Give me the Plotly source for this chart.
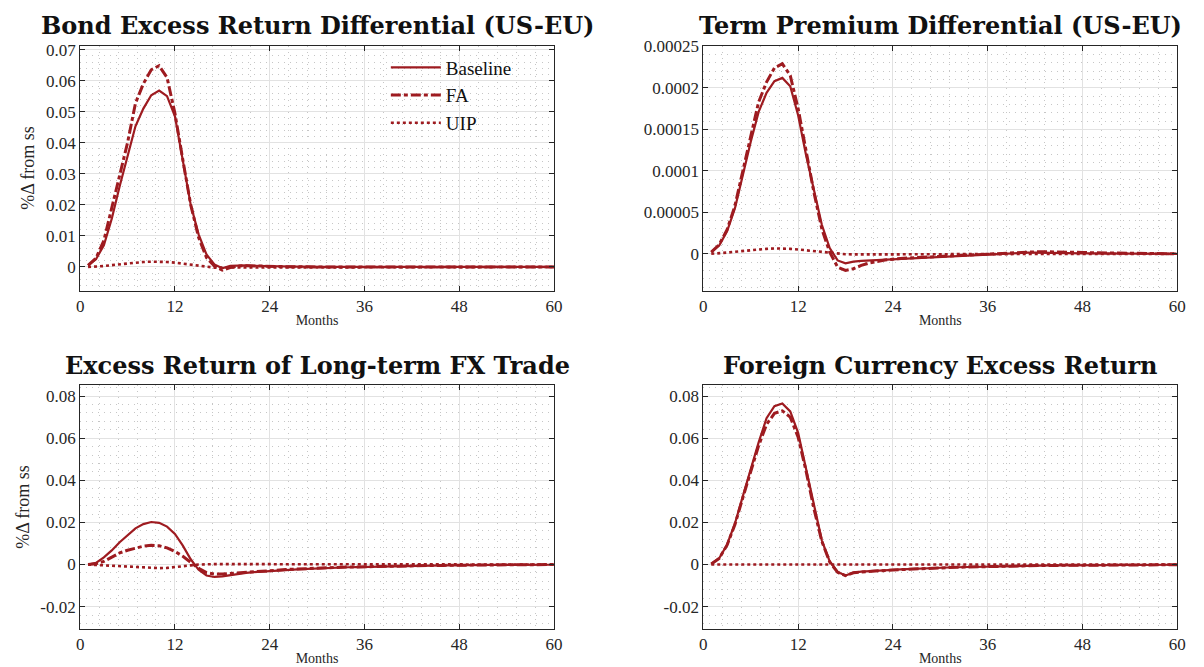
import plotly.graph_objects as go

# ---- data: impulse responses, months 1..60 ----
months = list(range(1, 61))

bond_baseline = [0.0005, 0.0025, 0.0070, 0.0155, 0.0260, 0.0360, 0.0453, 0.0510, 0.0553, 0.0568,
                 0.0550, 0.0485, 0.0340, 0.0200, 0.0105, 0.0040, 0.0008, -0.0004, 0.0004, 0.0005,
                 0.0005, 0.0004, 0.0003, 0.0002, 0.0002, 0.0001, 0.0001, 0.0001, 0.0000, 0.0000,
                 0.0000, 0.0000, 0.0000, 0.0000, 0.0000, 0.0000, 0.0000, 0.0000, 0.0000, 0.0000,
                 0.0000, 0.0000, 0.0000, 0.0000, 0.0000, 0.0000, 0.0000, 0.0000, 0.0000, 0.0000,
                 0.0000, 0.0000, 0.0000, 0.0000, 0.0000, 0.0000, 0.0000, 0.0000, 0.0000, 0.0000]
bond_fa = [0.0005, 0.0028, 0.0085, 0.0190, 0.0290, 0.0400, 0.0527, 0.0590, 0.0635, 0.0648,
           0.0610, 0.0495, 0.0345, 0.0200, 0.0095, 0.0030, 0.0003, -0.0010, -0.0002, 0.0003,
           0.0004, 0.0003, 0.0002, 0.0002, 0.0001, 0.0001, 0.0001, 0.0000, 0.0000, 0.0000,
           0.0000, 0.0000, 0.0000, 0.0000, 0.0000, 0.0000, 0.0000, 0.0000, 0.0000, 0.0000,
           0.0000, 0.0000, 0.0000, 0.0000, 0.0000, 0.0000, 0.0000, 0.0000, 0.0000, 0.0000,
           0.0000, 0.0000, 0.0000, 0.0000, 0.0000, 0.0000, 0.0000, 0.0000, 0.0000, 0.0000]
bond_uip = [0.0000, 0.0001, 0.0003, 0.0006, 0.0009, 0.0012, 0.0014, 0.0016, 0.0017, 0.0017,
            0.0016, 0.0014, 0.0011, 0.0007, 0.0003, 0.0000, -0.0002, -0.0002, -0.0002, -0.0001,
            -0.0001, -0.0001, -0.0001, 0.0000, 0.0000, 0.0000, 0.0000, 0.0000, 0.0000, 0.0000,
            0.0000, 0.0000, 0.0000, 0.0000, 0.0000, 0.0000, 0.0000, 0.0000, 0.0000, 0.0000,
            0.0000, 0.0000, 0.0000, 0.0000, 0.0000, 0.0000, 0.0000, 0.0000, 0.0000, 0.0000,
            0.0000, 0.0000, 0.0000, 0.0000, 0.0000, 0.0000, 0.0000, 0.0000, 0.0000, 0.0000]

# term premium differential, in units of 1e-5
term_baseline_e5 = [0.2, 1.0, 2.7, 5.5, 9.5, 13.5, 17.1, 19.4, 20.8, 21.2,
                    20.2, 16.7, 11.9, 7.5, 3.5, 0.7, -0.8, -1.15, -0.95, -0.85,
                    -0.8, -0.75, -0.7, -0.65, -0.6, -0.55, -0.5, -0.45, -0.4, -0.35,
                    -0.3, -0.25, -0.2, -0.15, -0.1, -0.05, 0.0, 0.05, 0.1, 0.12,
                    0.14, 0.15, 0.15, 0.14, 0.12, 0.1, 0.08, 0.06, 0.05, 0.04,
                    0.03, 0.02, 0.02, 0.01, 0.01, 0.0, 0.0, 0.0, 0.0, 0.0]
term_fa_e5 = [0.2, 1.1, 2.9, 5.8, 10.0, 14.3, 18.3, 20.7, 22.4, 22.9,
              21.5, 17.5, 12.3, 7.4, 3.0, 0.2, -1.6, -2.0, -1.8, -1.4,
              -1.1, -0.9, -0.75, -0.65, -0.55, -0.5, -0.45, -0.4, -0.35, -0.3,
              -0.25, -0.2, -0.15, -0.1, -0.05, 0.0, 0.05, 0.1, 0.15, 0.2,
              0.22, 0.24, 0.25, 0.25, 0.24, 0.22, 0.2, 0.17, 0.14, 0.12,
              0.1, 0.08, 0.06, 0.05, 0.04, 0.03, 0.02, 0.01, 0.01, 0.0]
term_uip_e5 = [0.0, 0.05, 0.15, 0.25, 0.35, 0.45, 0.55, 0.6, 0.65, 0.65,
               0.6, 0.52, 0.42, 0.3, 0.18, 0.07, 0.0, -0.05, -0.07, -0.08,
               -0.08, -0.08, -0.07, -0.07, -0.06, -0.06, -0.05, -0.05, -0.04, -0.04,
               -0.03, -0.03, -0.02, -0.02, -0.01, -0.01, 0.0, 0.0, 0.0, 0.0,
               0.0, 0.0, 0.0, 0.0, 0.0, 0.0, 0.0, 0.0, 0.0, 0.0,
               0.0, 0.0, 0.0, 0.0, 0.0, 0.0, 0.0, 0.0, 0.0, 0.0]
term_baseline = [v * 1e-5 for v in term_baseline_e5]
term_fa = [v * 1e-5 for v in term_fa_e5]
term_uip = [v * 1e-5 for v in term_uip_e5]

fx_baseline = [0.0000, 0.0008, 0.0034, 0.0067, 0.0106, 0.0140, 0.0172, 0.0192, 0.0202, 0.0198,
               0.0180, 0.0145, 0.0090, 0.0025, -0.0025, -0.0052, -0.0059, -0.0056, -0.0050, -0.0045,
               -0.0040, -0.0036, -0.0033, -0.0030, -0.0028, -0.0026, -0.0024, -0.0022, -0.0020, -0.0019,
               -0.0017, -0.0016, -0.0015, -0.0013, -0.0012, -0.0011, -0.0010, -0.0009, -0.0008, -0.0008,
               -0.0007, -0.0006, -0.0006, -0.0005, -0.0005, -0.0004, -0.0004, -0.0003, -0.0003, -0.0003,
               -0.0002, -0.0002, -0.0002, -0.0002, -0.0001, -0.0001, -0.0001, -0.0001, -0.0001, -0.0001]
fx_fa = [0.0000, 0.0004, 0.0015, 0.0035, 0.0055, 0.0068, 0.0079, 0.0087, 0.0091, 0.0089,
         0.0079, 0.0062, 0.0039, 0.0010, -0.0018, -0.0038, -0.0045, -0.0045, -0.0042, -0.0039,
         -0.0036, -0.0033, -0.0030, -0.0028, -0.0026, -0.0024, -0.0022, -0.0020, -0.0019, -0.0017,
         -0.0016, -0.0015, -0.0013, -0.0012, -0.0011, -0.0010, -0.0009, -0.0008, -0.0008, -0.0007,
         -0.0006, -0.0006, -0.0005, -0.0005, -0.0004, -0.0004, -0.0003, -0.0003, -0.0003, -0.0002,
         -0.0002, -0.0002, -0.0002, -0.0001, -0.0001, -0.0001, -0.0001, -0.0001, -0.0001, 0.0000]
fx_uip = [0.0000, -0.0002, -0.0004, -0.0007, -0.0010, -0.0012, -0.0014, -0.0016, -0.0017, -0.0017,
          -0.0016, -0.0013, -0.0009, -0.0004, 0.0000, 0.0002, 0.0002, 0.0002, 0.0002, 0.0001,
          0.0001, 0.0001, 0.0001, 0.0001, 0.0001, 0.0001, 0.0000, 0.0000, 0.0000, 0.0000,
          0.0000, 0.0000, 0.0000, 0.0000, 0.0000, 0.0000, 0.0000, 0.0000, 0.0000, 0.0000,
          0.0000, 0.0000, 0.0000, 0.0000, 0.0000, 0.0000, 0.0000, 0.0000, 0.0000, 0.0000,
          0.0000, 0.0000, 0.0000, 0.0000, 0.0000, 0.0000, 0.0000, 0.0000, 0.0000, 0.0000]

fc_baseline = [0.0003, 0.0030, 0.0094, 0.0195, 0.0325, 0.0455, 0.0580, 0.0695, 0.0752, 0.0765,
               0.0727, 0.0625, 0.0455, 0.0270, 0.0115, 0.0015, -0.0035, -0.0052, -0.0038, -0.0034,
               -0.0031, -0.0029, -0.0027, -0.0025, -0.0023, -0.0021, -0.0019, -0.0018, -0.0017, -0.0015,
               -0.0014, -0.0013, -0.0012, -0.0011, -0.0010, -0.0009, -0.0008, -0.0008, -0.0007, -0.0006,
               -0.0006, -0.0005, -0.0005, -0.0004, -0.0004, -0.0004, -0.0003, -0.0003, -0.0002, -0.0002,
               -0.0002, -0.0002, -0.0002, -0.0001, -0.0001, -0.0001, -0.0001, -0.0001, -0.0001, -0.0001]
fc_fa = [0.0003, 0.0029, 0.0092, 0.0190, 0.0318, 0.0445, 0.0565, 0.0665, 0.0718, 0.0730,
         0.0700, 0.0605, 0.0445, 0.0265, 0.0110, 0.0012, -0.0037, -0.0053, -0.0039, -0.0035,
         -0.0032, -0.0030, -0.0028, -0.0026, -0.0024, -0.0022, -0.0020, -0.0018, -0.0017, -0.0016,
         -0.0014, -0.0013, -0.0012, -0.0011, -0.0010, -0.0009, -0.0008, -0.0008, -0.0007, -0.0006,
         -0.0006, -0.0005, -0.0005, -0.0004, -0.0004, -0.0004, -0.0003, -0.0003, -0.0002, -0.0002,
         -0.0002, -0.0002, -0.0002, -0.0001, -0.0001, -0.0001, -0.0001, -0.0001, -0.0001, -0.0001]
fc_uip = [0.0] * 60

# ---- axis ticks ----
x_ticks = [0, 12, 24, 36, 48, 60]
x_ticklabels = ["0", "12", "24", "36", "48", "60"]
bond_yticks = [0, 0.01, 0.02, 0.03, 0.04, 0.05, 0.06, 0.07]
bond_yticklabels = ["0", "0.01", "0.02", "0.03", "0.04", "0.05", "0.06", "0.07"]
term_yticks = [0, 0.00005, 0.0001, 0.00015, 0.0002, 0.00025]
term_yticklabels = ["0", "0.00005", "0.0001", "0.00015", "0.0002", "0.00025"]
low_yticks = [-0.02, 0, 0.02, 0.04, 0.06, 0.08]
low_yticklabels = ["-0.02", "0", "0.02", "0.04", "0.06", "0.08"]

titles = ["Bond Excess Return Differential (US-EU)",
          "Term Premium Differential (US-EU)",
          "Excess Return of Long-term FX Trade",
          "Foreign Currency Excess Return"]
series_names = ["Baseline", "FA", "UIP"]

# ---- styling ----
RED = "#9E1B20"
W, H = 1204, 667
SERIF = "Times New Roman, Liberation Serif, serif"
TICK_FONT = dict(family=SERIF, size=17, color="#262626")
MAJOR_GRID = "#e2e2e2"
MINOR_GRID = "#c6c6c6"

left_dom = [77 / W, 556 / W]
right_dom = [707 / W, 1186 / W]
top_dom = [1 - 286 / H, 1 - 38 / H]
bot_dom = [1 - 628.3 / H, 1 - 381.7 / H]

panels = [
    dict(series=(bond_baseline, bond_fa, bond_uip), xd=left_dom, yd=top_dom,
         yr=[-0.0076, 0.0713], yt=bond_yticks, ytl=bond_yticklabels, ydt=0.002, ylabel=True),
    dict(series=(term_baseline, term_fa, term_uip), xd=right_dom, yd=top_dom,
         yr=[-0.0000443, 0.000251], yt=term_yticks, ytl=term_yticklabels, ydt=0.00001, ylabel=False),
    dict(series=(fx_baseline, fx_fa, fx_uip), xd=left_dom, yd=bot_dom,
         yr=[-0.0305, 0.0852], yt=low_yticks, ytl=low_yticklabels, ydt=0.004, ylabel=True),
    dict(series=(fc_baseline, fc_fa, fc_uip), xd=right_dom, yd=bot_dom,
         yr=[-0.0305, 0.0852], yt=low_yticks, ytl=low_yticklabels, ydt=0.004, ylabel=False),
]

line_styles = [
    dict(color=RED, width=2.2, dash="solid"),
    dict(color=RED, width=3, dash="10px,3px,4px,3px"),
    dict(color=RED, width=2.6, dash="3px,3px"),
]

fig = go.Figure()
layout = dict(
    width=W, height=H,
    margin=dict(l=0, r=0, t=0, b=0),
    paper_bgcolor="white", plot_bgcolor="white",
    showlegend=True,
    legend=dict(x=386 / W, y=1 - 41 / H, xanchor="left", yanchor="top",
                bgcolor="rgba(0,0,0,0)", borderwidth=0,
                font=dict(family=SERIF, size=19, color="#111111"),
                tracegroupgap=0, itemwidth=50),
    annotations=[],
)

for i, p in enumerate(panels):
    n = i + 1
    xa = "x" if n == 1 else f"x{n}"
    ya = "y" if n == 1 else f"y{n}"
    for j, (vals, name) in enumerate(zip(p["series"], series_names)):
        fig.add_trace(go.Scatter(
            x=months, y=vals, mode="lines", name=name,
            line=line_styles[j], xaxis=xa, yaxis=ya,
            showlegend=(i == 0), legendgroup=name,
        ))
    axis_common = dict(
        showline=True, mirror="ticks", linecolor="#262626", linewidth=1,
        ticks="inside", ticklen=5, tickcolor="#262626", tickwidth=1,
        showgrid=True, gridcolor=MAJOR_GRID, gridwidth=1, zeroline=False,
        tickfont=TICK_FONT,
    )
    layout["xaxis" if n == 1 else f"xaxis{n}"] = dict(
        axis_common, domain=p["xd"], anchor=ya, range=[0, 60],
        tickmode="array", tickvals=x_ticks, ticktext=x_ticklabels,
        minor=dict(dtick=2.4, tick0=0, showgrid=True, gridcolor=MINOR_GRID,
                   griddash="1px,5px", gridwidth=1, ticks=""),
        title=dict(text="Months", font=dict(family=SERIF, size=14, color="#262626"),
                   standoff=0),
    )
    yax = dict(
        axis_common, domain=p["yd"], anchor=xa, range=p["yr"],
        tickmode="array", tickvals=p["yt"], ticktext=p["ytl"],
        minor=dict(dtick=p["ydt"], tick0=0, showgrid=True, gridcolor=MINOR_GRID,
                   griddash="1px,5px", gridwidth=1, ticks=""),
    )
    if p["ylabel"]:
        yax["title"] = dict(text="%Δ from ss",
                            font=dict(family=SERIF, size=18, color="#262626"),
                            standoff=6)
    layout["yaxis" if n == 1 else f"yaxis{n}"] = yax

    # panel title
    cx = (p["xd"][0] + p["xd"][1]) / 2
    ty = 1 - 18 / H if p["yd"] is top_dom else 1 - 362 / H
    layout["annotations"].append(dict(
        text=f"<b>{titles[i]}</b>", x=cx, y=ty, xref="paper", yref="paper",
        xanchor="center", yanchor="middle", showarrow=False,
        font=dict(family="DejaVu Serif", size=24, color="#111111"),
    ))

fig.update_layout(**layout)
fig.write_html("out.html")
